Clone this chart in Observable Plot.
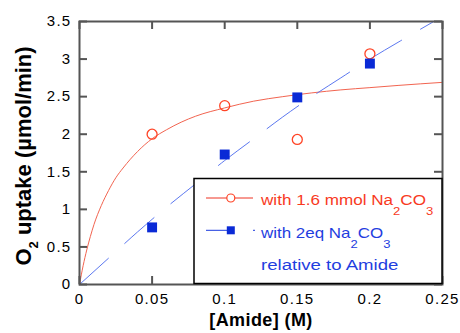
<!DOCTYPE html>
<html><head><meta charset="utf-8">
<script src="https://cdn.jsdelivr.net/npm/d3@7"></script>
<script src="https://cdn.jsdelivr.net/npm/@observablehq/plot@0.6"></script>
<style>
body{margin:0;background:#fff;}
#wrap{position:relative;width:460px;height:333px;font-family:"Liberation Sans",Arial,Helvetica,sans-serif;}
#wrap svg{position:absolute;left:0;top:0;}
g[aria-label="x-axis tick label"] text, g[aria-label="y-axis tick label"] text{letter-spacing:1.3px;}
.xlab text{letter-spacing:0.4px;}
</style></head><body><div id="wrap"></div>
<script>
// measured points
const amide = [0.05, 0.10, 0.15, 0.20];
const uptakeNa16 = [2.00, 2.38, 1.93, 3.07];
const uptake2eq = [0.76, 1.73, 2.49, 2.94];
// fitted curves
const fitRedX = [0, 0.0025, 0.005, 0.0075, 0.01, 0.015, 0.02, 0.025, 0.03, 0.04, 0.05, 0.06, 0.07, 0.08, 0.10, 0.12, 0.14, 0.16, 0.18, 0.20, 0.22, 0.25];
const fitRedY = [0, 0.25, 0.46, 0.64, 0.80, 1.05, 1.25, 1.42, 1.55, 1.77, 1.94, 2.06, 2.16, 2.24, 2.35, 2.44, 2.50, 2.55, 2.59, 2.62, 2.65, 2.69];
const fitBlueX = [0, 0.02, 0.04, 0.06, 0.08, 0.10, 0.12, 0.14, 0.16, 0.18, 0.20, 0.22, 0.244];
const fitBlueY = [0, 0.35, 0.70, 1.03, 1.34, 1.65, 1.94, 2.23, 2.50, 2.75, 3.00, 3.23, 3.50];
// ticks
const xTicks = [0, 0.05, 0.10, 0.15, 0.20, 0.25];
const xTickLabels = ["0", "0.05", "0.1", "0.15", "0.2", "0.25"];
const yTicks = [0, 0.5, 1, 1.5, 2, 2.5, 3, 3.5];
const yTickLabels = ["0", "0.5", "1", "1.5", "2", "2.5", "3", "3.5"];
// text
const xTitle = "[Amide] (M)";
const yTitleMain = "O";
const yTitleSub = "2";
const yTitleRest = " uptake (µmol/min)";
const legendRed = ["with 1.6 mmol Na", "2", "CO", "3"];
const legendBlue = ["with 2eq Na", "2", "CO", "3"];
const legendBlue2 = "relative to Amide";

const W = 460, H = 333, mL = 79, mR = 18, mT = 21, mB = 49;
const pw = W - mL - mR, ph = H - mT - mB;
const RED = "#f83a1e", BLUE = "#1f3ee0";

const redPts = amide.map((x, i) => ({x, y: uptakeNa16[i]}));
const bluePts = amide.map((x, i) => ({x, y: uptake2eq[i]}));
const redFit = fitRedX.map((x, i) => ({x, y: fitRedY[i]}));
const blueFit = fitBlueX.map((x, i) => ({x, y: fitBlueY[i]}));

const chart = Plot.plot({
  width: W, height: H, marginLeft: mL, marginRight: mR, marginTop: mT, marginBottom: mB,
  style: {fontFamily: "'Liberation Sans', Arial, sans-serif", background: "white", color: "#000", overflow: "visible"},
  x: {domain: [0, 0.25]},
  y: {domain: [0, 3.5]},
  marks: [
    Plot.line(redFit, {x: "x", y: "y", stroke: "#f26450", strokeWidth: 1, curve: "monotone-x"}),
    Plot.line(blueFit, {x: "x", y: "y", stroke: "#5c78f0", strokeWidth: 1, strokeDasharray: "39,22", curve: "monotone-x"}),
    Plot.dot(redPts, {x: "x", y: "y", r: 5, stroke: "#ff4426", strokeWidth: 1.3, fill: "none"}),
    Plot.dot(bluePts, {x: "x", y: "y", r: 5.6, symbol: "square", fill: "#0a2ad6", stroke: "none"}),
    Plot.tickX(xTicks, {x: d => d, insetTop: ph - 8, stroke: "#555", strokeWidth: 2}),
    Plot.tickX(xTicks, {x: d => d, insetBottom: ph - 8, stroke: "#555", strokeWidth: 2}),
    Plot.tickY(yTicks, {y: d => d, insetRight: pw - 8, stroke: "#555", strokeWidth: 2}),
    Plot.tickY(yTicks, {y: d => d, insetLeft: pw - 8, stroke: "#555", strokeWidth: 2}),
    Plot.frame({stroke: "#555", strokeWidth: 2}),
    Plot.axisX({ticks: xTicks, tickFormat: d => xTickLabels[xTicks.indexOf(d)], tickSize: 0, tickPadding: 9, label: null, fontSize: 15}),
    Plot.axisY({ticks: yTicks, tickFormat: d => yTickLabels[yTicks.indexOf(d)], tickSize: 0, tickPadding: 8, label: null, fontSize: 15}),
    Plot.text([xTitle], {text: d => d, frameAnchor: "bottom", dy: 41, lineAnchor: "bottom", fontWeight: "bold", fontSize: 18, className: "xlab"}),
    Plot.text([yTitleMain], {text: d => d, frameAnchor: "left", textAnchor: "middle", dx: -56, dy: 3, rotate: -90, fontWeight: "bold", fontSize: 22, className: "ylab"})
  ]
});

const wrap = document.getElementById("wrap");
wrap.appendChild(chart);

// y title with subscript
const yl = d3.select(chart).select(".ylab text");
yl.text(null);
yl.append("tspan").text(yTitleMain);
yl.append("tspan").attr("font-size", 13).attr("dy", 7).text(yTitleSub);
yl.append("tspan").attr("dy", -7).text(yTitleRest);

// legend overlay
const leg = d3.select(wrap).append("svg").attr("width", W).attr("height", H)
  .style("font-family", "'Liberation Sans', Arial, sans-serif");
leg.append("rect").attr("x", 194).attr("y", 178.5).attr("width", 248).attr("height", 105)
  .attr("fill", "white").attr("stroke", "#000").attr("stroke-width", 1.5);
leg.append("line").attr("x1", 206).attr("x2", 253).attr("y1", 198).attr("y2", 198).attr("stroke", "#ee3322").attr("stroke-width", 1);
leg.append("circle").attr("cx", 230.8).attr("cy", 198).attr("r", 4).attr("fill", "white").attr("stroke", "#ff4426").attr("stroke-width", 1.2);
leg.append("line").attr("x1", 206).attr("x2", 255).attr("y1", 230.3).attr("y2", 230.3).attr("stroke", "#1a3ade").attr("stroke-width", 1).attr("stroke-dasharray", "22,25");
leg.append("rect").attr("x", 226.8).attr("y", 226.3).attr("width", 8).attr("height", 8).attr("fill", "#0a2ad6");

function subText(y, parts, color, sx) {
  const g = leg.append("g").attr("transform", `translate(261,${y}) scale(${sx},1)`);
  const t = g.append("text").attr("fill", color).attr("font-size", 15);
  t.append("tspan").text(parts[0]);
  t.append("tspan").attr("font-size", 11.5).attr("dy", 10).text(parts[1]);
  t.append("tspan").attr("dy", -10).text(parts[2]);
  t.append("tspan").attr("font-size", 11.5).attr("dy", 10).text(parts[3]);
}
subText(205, legendRed, RED, 1.14);
subText(238, legendBlue, BLUE, 1.13);
leg.append("g").attr("transform", "translate(261,270) scale(1.24,1)")
  .append("text").attr("fill", BLUE).attr("font-size", 15).text(legendBlue2);
</script>
</body></html>
